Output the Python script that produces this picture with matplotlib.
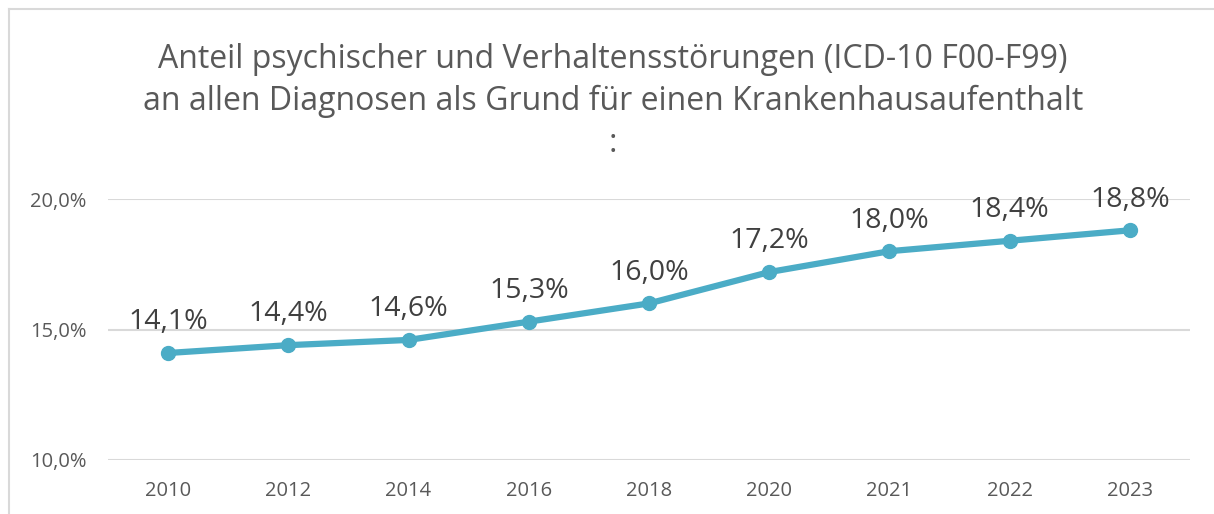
import matplotlib
matplotlib.use("Agg")
import matplotlib.pyplot as plt
from matplotlib.lines import Line2D
from matplotlib.ticker import FuncFormatter

years = ["2010", "2012", "2014", "2016", "2018", "2020", "2021", "2022", "2023"]
share = [14.1, 14.4, 14.6, 15.3, 16.0, 17.2, 18.0, 18.4, 18.8]

title = ("Anteil psychischer und Verhaltensstörungen (ICD-10 F00-F99)\n"
         "an allen Diagnosen als Grund für einen Krankenhausaufenthalt\n:")

plt.rcParams['font.family'] = ['Open Sans', 'DejaVu Sans']

W, H = 1214, 514
fig = plt.figure(figsize=(W / 100, H / 100), dpi=100)
fig.patch.set_facecolor("white")

ax = fig.add_axes([108 / W, 1 - 460 / H, (1190 - 108) / W, (460 - 199) / H])

x = list(range(len(years)))
ax.plot(x, share, color="#4BACC6", lw=4.5, marker="o", ms=10,
        solid_capstyle="round", zorder=3, clip_on=False)

for xi, v in zip(x, share):
    ax.annotate(f"{v:.1f}%".replace(".", ","), (xi, v), xytext=(0, 12),
                textcoords="offset points", ha="center", va="bottom",
                fontsize=20.5, color="#404040", annotation_clip=False)

ax.set_xlim(-0.5, len(years) - 0.5)
ax.set_ylim(10, 20)
ax.set_yticks([10, 15, 20])
ax.yaxis.set_major_formatter(FuncFormatter(lambda v, p: f"{v:.1f}%".replace(".", ",")))
ax.set_xticks(x)
ax.set_xticklabels(years)
ax.tick_params(axis="both", length=0, labelsize=14.5, colors="#595959")
ax.tick_params(axis="y", pad=56)
ax.tick_params(axis="x", pad=15)
for lbl in ax.get_yticklabels():
    lbl.set_ha("left")
ax.grid(axis="y", color="#D9D9D9", lw=1.5)
ax.set_axisbelow(True)
for s in ax.spines.values():
    s.set_visible(False)

fig.text(613 / W, 1 - 43 / H, title, ha="center", va="top", fontsize=23,
         color="#595959", linespacing=1.35)

# chart frame (only left and top edges visible in the crop)
fig.add_artist(Line2D([9 / W, 9 / W], [0, 1 - 9 / H], color="#D9D9D9", lw=1.5))
fig.add_artist(Line2D([9 / W, 1], [1 - 9 / H, 1 - 9 / H], color="#D9D9D9", lw=1.5))

fig.savefig("out.png", dpi=100)
